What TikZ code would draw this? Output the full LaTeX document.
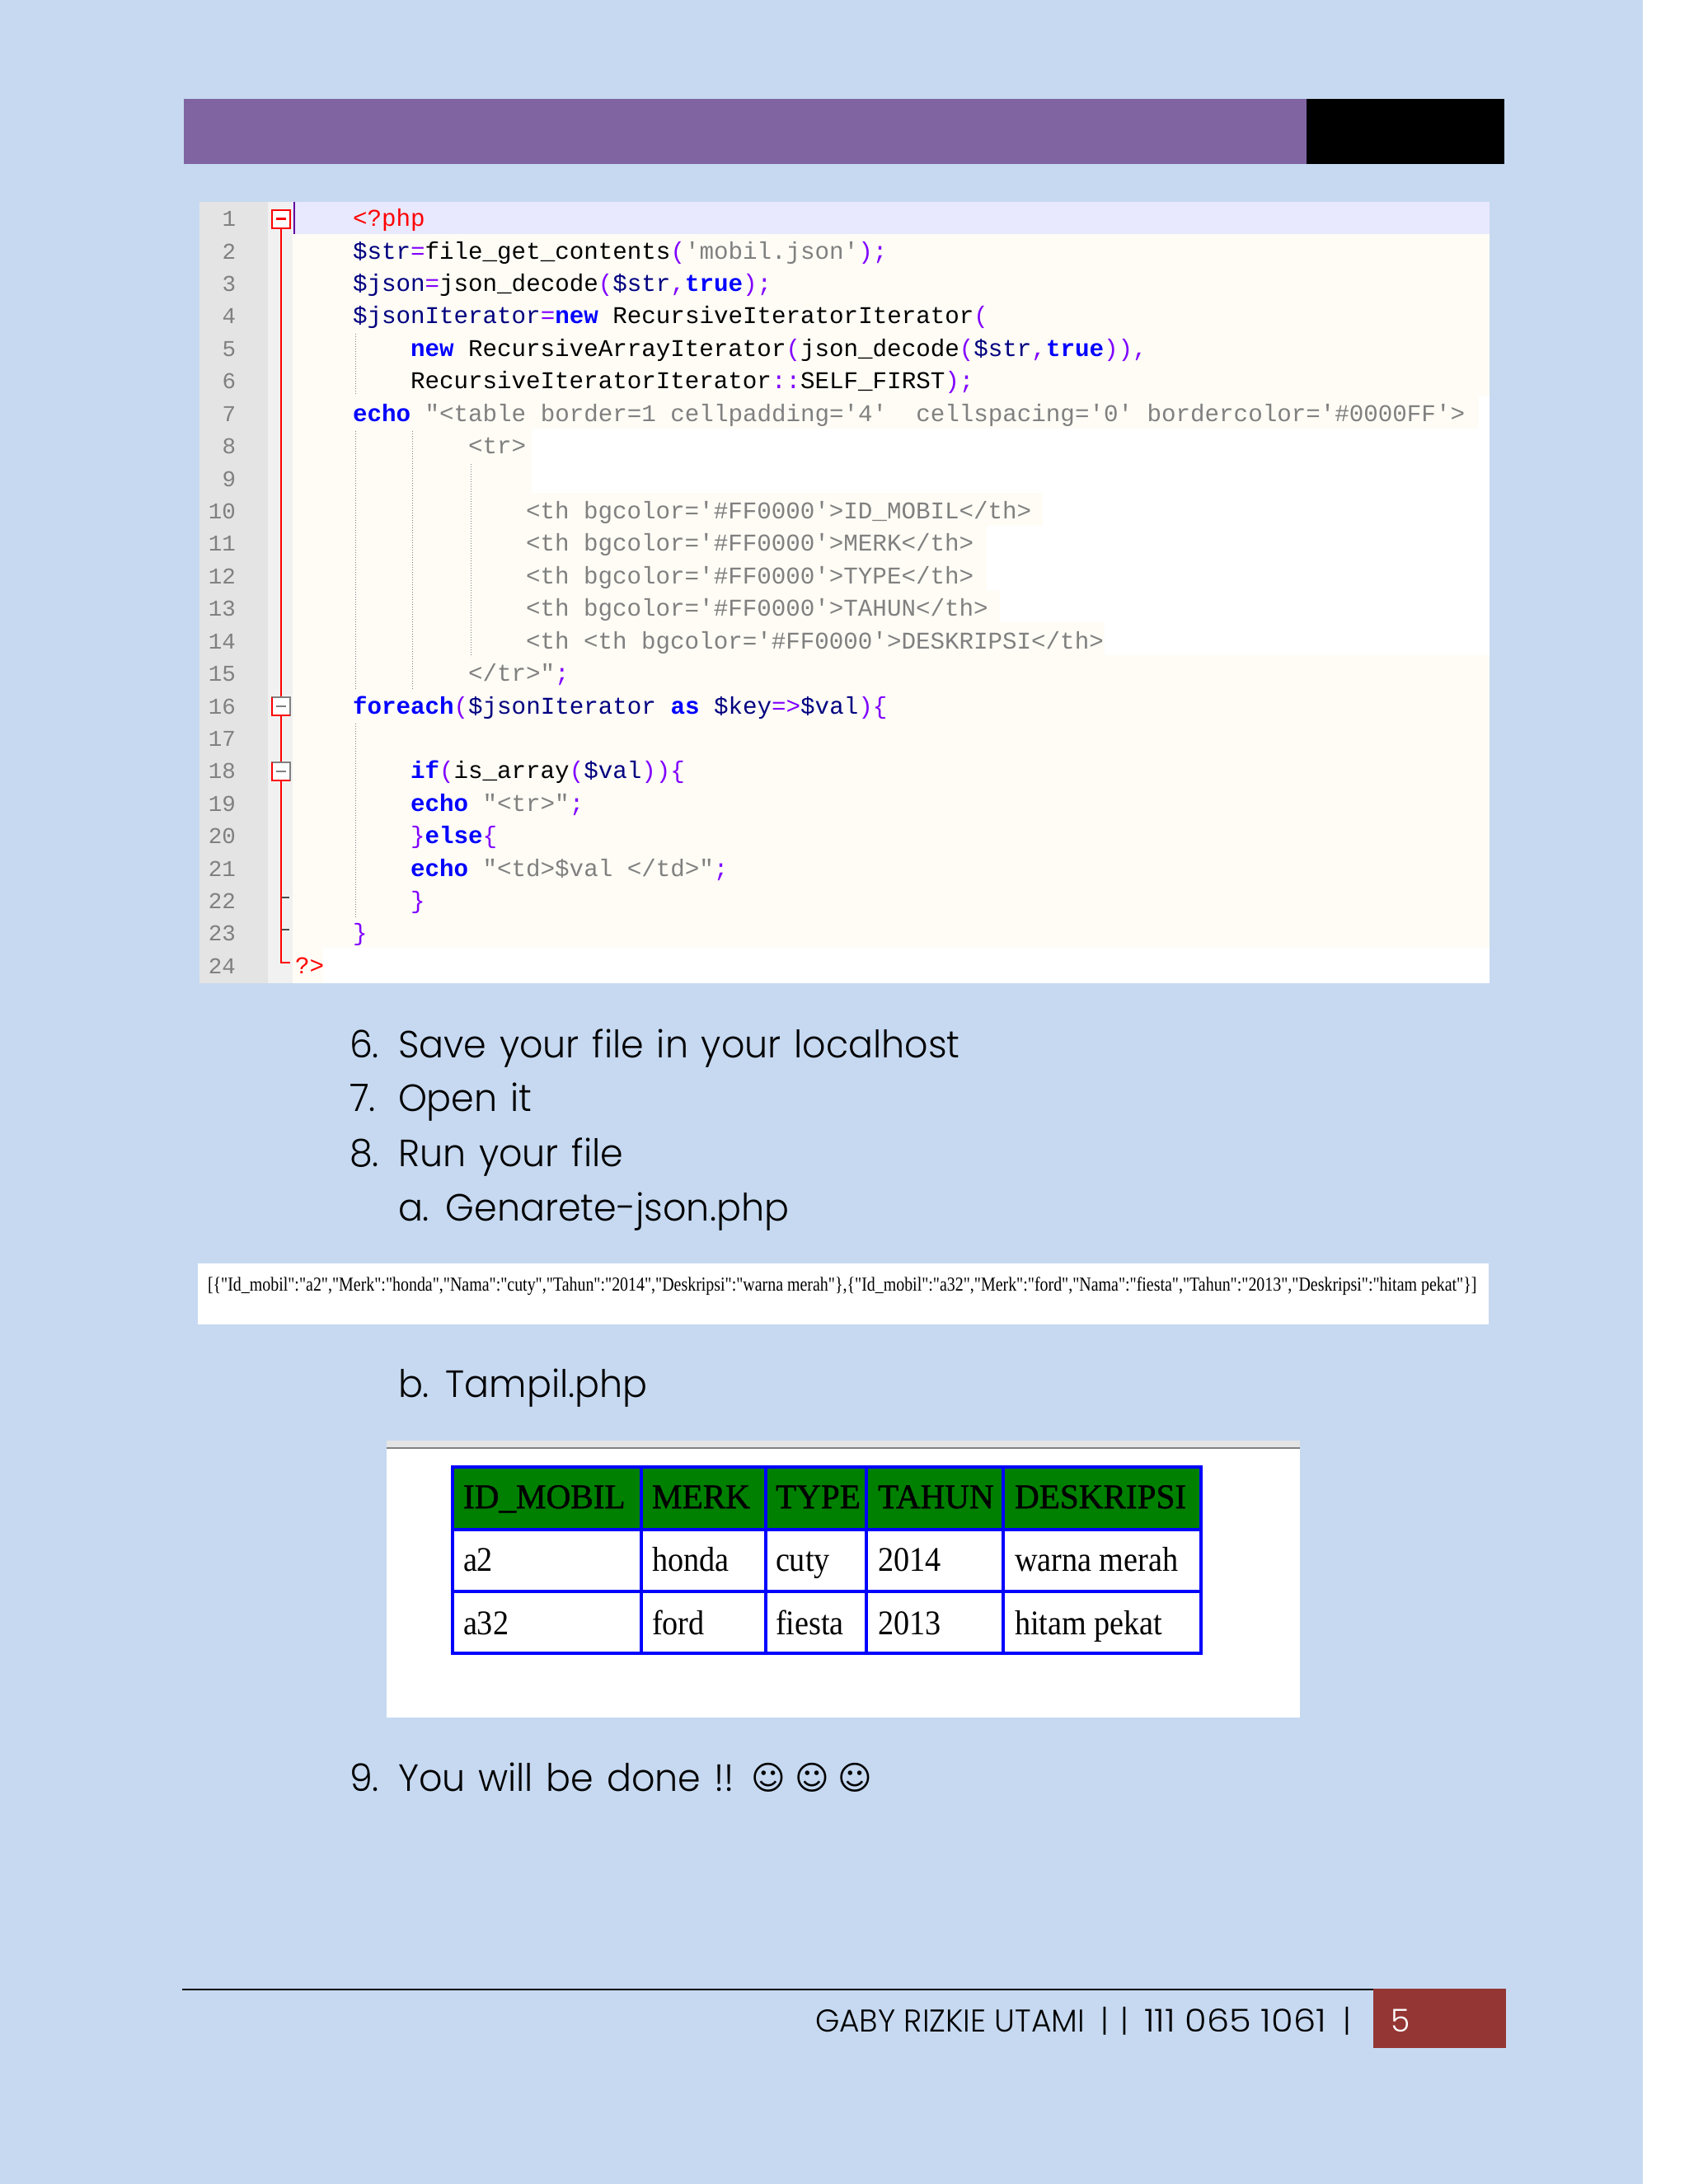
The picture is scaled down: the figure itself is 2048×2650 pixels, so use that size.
\documentclass[tikz,border=0pt]{standalone}
\usepackage{fontspec}
\newfontfamily\bodyfont[FakeStretch=0.965,WordSpace=1.3,UprightFont=* Light]{Poppins}
\newfontfamily\footfont[FakeStretch=0.985,UprightFont=* Light]{Poppins}
\newfontfamily\footnum[FakeStretch=1.13,UprightFont=* Light]{Poppins}
\newfontfamily\codefont{Liberation Mono}
\newfontfamily\webhead[FakeBold=1.2,FakeStretch=0.98]{Liberation Serif}
\newfontfamily\webfont[FakeStretch=0.91]{Liberation Serif}
\newfontfamily\jsonfont[FakeStretch=0.83]{Liberation Serif}
\newfontfamily\symfont{DejaVu Sans}

\definecolor{pagebg}{HTML}{C6D9F1}
\definecolor{barpurple}{HTML}{8064A2}
\definecolor{footred}{HTML}{943634}
\definecolor{gutter}{HTML}{E4E4E4}
\definecolor{hatch}{HTML}{F1F1F1}
\definecolor{caretline}{HTML}{E8E8FF}
\definecolor{cream}{HTML}{FEFCF5}
\definecolor{phpnavy}{HTML}{000080}
\definecolor{phppurple}{HTML}{8000FF}
\definecolor{phpgray}{HTML}{808080}
\definecolor{webgreen}{HTML}{008000}

\newcommand{\phptag}[1]{\textcolor{red}{#1}}
\newcommand{\phpvar}[1]{\textcolor{phpnavy}{#1}}
\newcommand{\phpop}[1]{\textcolor{phppurple}{#1}}
\newcommand{\phpword}[1]{\textcolor{blue}{\bfseries #1}}
\newcommand{\phpstr}[1]{\textcolor{phpgray}{#1}}

\tikzset{
	label/.style={inner sep=0, outer sep=0, anchor=base west},
	bodytext/.style={label, font=\bodyfont\fontsize{46}{50}\selectfont},
	foottext/.style={label, font=\footfont\fontsize{38.2}{44}\selectfont},
	footpipe/.style={foottext, anchor=base},
	smiley/.style={inner sep=0, outer sep=0, anchor=center, font=\symfont\fontsize{40}{44}\selectfont},
	codetext/.style={label, font=\codefont\fontsize{29.2}{32}\selectfont},
	linenum/.style={inner sep=0, outer sep=0, anchor=base east, text=phpgray, font=\codefont\fontsize{27.5}{32}\selectfont},
	webcell/.style={label, font=\webfont\fontsize{42}{46}\selectfont},
	webheadcell/.style={label, font=\webhead\fontsize{42}{46}\selectfont},
	webgrid/.style={blue, line width=4.5pt},
	guide/.style={phpgray, line width=1pt, dotted},
	fold/.style={red, line width=2.5pt}
}

\begin{document}
\begin{tikzpicture}[x=1pt, y=-1pt]
	\useasboundingbox (0,0) rectangle (2048,2650);
	
	% Draw the page.
	\fill[white] (0,0) rectangle (2048,2650);
	\fill[pagebg] (0,0) rectangle (1993,2650);
	
	% Draw the header bar.
	\fill[barpurple] (223,120) rectangle (1585,199);
	\fill[black] (1585,120) rectangle (1825,199);
	
	% Draw the editor panel.
	\fill[white] (242,245) rectangle (1807,1193);
	\fill[gutter] (242,245) rectangle (325,1193);
	\fill[hatch] (325,245) rectangle (355,1193);
	\fill[caretline] (355,245) rectangle (1807,284);
	\fill[cream] (355,284) rectangle (1807,480);
	\fill[cream] (355,480) rectangle (1794,520);
	\fill[cream] (355,795) rectangle (1807,1150);
	\fill[cream] (355,1150) rectangle (392,1193);
	\foreach \y/\xend in {598/1265, 637/1197, 677/1197, 716/1213, 755/1340}{
		\fill[cream] (355,\y) rectangle (\xend,\y + 40);
	}
	\fill[cream] (355,520) rectangle (645,598);
	\draw[blue!60!red, line width=2pt] (357,245) -- (357,284);
	
	% Draw the indent guides.
	\foreach \x/\ystart/\yend in {431/405/480, 431/523/837, 500/523/837, 571/563/797, 431/878/1113}{
		\draw[guide] (\x,\ystart) -- (\x,\yend);
	}
	
	% Draw the fold margin.
	\draw[fold] (341,277) -- (341,1168) -- (352,1168);
	\draw[fold, fill=white] (330,255) rectangle (352,277);
	\draw[fold, line width=3pt] (335,265) -- (347,265);
	\foreach \y in {846, 925}{
		\draw[gray, line width=2pt, fill=white] (330,\y) rectangle (352,\y + 22);
		\draw[fold] (352,\y + 22) -- (330,\y + 22) -- (330,\y);
		\draw[gray, line width=2pt] (335,\y + 11) -- (347,\y + 11);
	}
	\foreach \y in {1089, 1128}{
		\draw[black!70, line width=2pt] (342,\y) -- (351,\y);
	}
	
	% Draw the line numbers.
	\foreach \n in {1,...,24}{
		\node[linenum] (num\n) at (286,{274.7 + 39.42*(\n - 1)}) {\n};
	}
	
	% Draw the code lines.
	\foreach \n/\col/\codetxt in {
		1/4/{\phptag{<?php}},
		2/4/{\phpvar{\$str}\phpop{=}file\_get\_contents\phpop{(}\phpstr{'mobil.json'}\phpop{);}},
		3/4/{\phpvar{\$json}\phpop{=}json\_decode\phpop{(}\phpvar{\$str}\phpop{,}\phpword{true}\phpop{);}},
		4/4/{\phpvar{\$jsonIterator}\phpop{=}\phpword{new} RecursiveIteratorIterator\phpop{(}},
		5/8/{\phpword{new} RecursiveArrayIterator\phpop{(}json\_decode\phpop{(}\phpvar{\$str}\phpop{,}\phpword{true}\phpop{)),}},
		6/8/{RecursiveIteratorIterator\phpop{::}SELF\_FIRST\phpop{);}},
		7/4/{\phpword{echo} \phpstr{"<table border=1 cellpadding='4'\ \ cellspacing='0' bordercolor='\#0000FF'>}},
		8/12/{\phpstr{<tr>}},
		10/16/{\phpstr{<th bgcolor='\#FF0000'>ID\_MOBIL</th>}},
		11/16/{\phpstr{<th bgcolor='\#FF0000'>MERK</th>}},
		12/16/{\phpstr{<th bgcolor='\#FF0000'>TYPE</th>}},
		13/16/{\phpstr{<th bgcolor='\#FF0000'>TAHUN</th>}},
		14/16/{\phpstr{<th <th bgcolor='\#FF0000'>DESKRIPSI</th>}},
		15/12/{\phpstr{</tr>"}\phpop{;}},
		16/4/{\phpword{foreach}\phpop{(}\phpvar{\$jsonIterator} \phpword{as} \phpvar{\$key}\phpop{=>}\phpvar{\$val}\phpop{)\{}},
		18/8/{\phpword{if}\phpop{(}is\_array\phpop{(}\phpvar{\$val}\phpop{))\{}},
		19/8/{\phpword{echo} \phpstr{"<tr>"}\phpop{;}},
		20/8/{\phpop{\}}\phpword{else}\phpop{\{}},
		21/8/{\phpword{echo} \phpstr{"<td>\$val </td>"}\phpop{;}},
		22/8/{\phpop{\}}},
		23/4/{\phpop{\}}},
		24/0/{\phptag{?>}}}{
		\node[codetext] (code\n) at ({358 + 17.5*\col},{274.7 + 39.42*(\n - 1)}) {\codetxt};
	}
	
	% Draw the numbered steps.
	\foreach \x/\y/\name/\steptxt in {424/1283/six/6., 483/1283/save/Save your file in your localhost, 424/1348/seven/7., 483/1348/open/Open it, 424/1415/eight/8., 483/1415/run/Run your file, 483/1481/suba/a. Genarete-json.php, 483/1695/subb/b. Tampil.php, 424/2173/nine/9., 483/2173/done/You will be done !!}{
		\node[bodytext] (\name) at (\x,\y) {\steptxt};
	}
	\foreach \x/\name in {932/smileone, 985/smiletwo, 1037/smilethree}{
		\node[smiley] (\name) at (\x,2157) {☺};
	}
	
	% Draw the json output.
	\fill[white] (240,1533) rectangle (1806,1607);
	\node[label, font=\jsonfont\fontsize{24}{28}\selectfont] (json) at (252,1566) {[\{"Id\_mobil":"a2","Merk":"honda","Nama":"cuty","Tahun":"2014","Deskripsi":"warna merah"\},\{"Id\_mobil":"a32","Merk":"ford","Nama":"fiesta","Tahun":"2013","Deskripsi":"hitam pekat"\}]};
	
	% Draw the browser window.
	\fill[white] (469,1748) rectangle (1577,2084);
	\fill[gutter] (469,1748) rectangle (1577,1757);
	\draw[gray, line width=1.5pt] (469,1757) -- (1577,1757);
	
	% Draw the table.
	\fill[webgreen] (549,1780) rectangle (1457,1856);
	\draw[webgrid] (549,1780) rectangle (1457,2006);
	\foreach \x in {778, 929, 1051, 1217}{
		\draw[blue, line width=4pt] (\x,1780) -- (\x,2006);
	}
	\foreach \y in {1856, 1931}{
		\draw[webgrid] (549,\y) -- (1457,\y);
	}
	\foreach \x/\name/\celltxt in {562/hid/ID\_MOBIL, 791/hmerk/MERK, 941/htype/TYPE, 1065/htahun/TAHUN, 1231/hdesk/DESKRIPSI}{
		\node[webheadcell] (\name) at (\x,1830) {\celltxt};
	}
	\foreach \x/\y/\name/\celltxt in {562/1906/aid/a2, 791/1906/amerk/honda, 941/1906/atype/cuty, 1065/1906/atahun/2014, 1231/1906/adesk/warna merah,
		562/1983/bid/a32, 791/1983/bmerk/ford, 941/1983/btype/fiesta, 1065/1983/btahun/2013, 1231/1983/bdesk/hitam pekat}{
		\node[webcell] (\name) at (\x,\y) {\celltxt};
	}
	
	% Draw the footer.
	\draw[black, line width=2pt] (221,2414) -- (1666,2414);
	\fill[footred] (1666,2413) rectangle (1827,2485);
	\node[foottext] (author) at (989,2465) {GABY RIZKIE UTAMI};
	\foreach \x/\name in {1340/pipeone, 1364.5/pipetwo, 1634.5/pipethree}{
		\node[footpipe] (\name) at (\x,2465) {|};
	}
	\node[foottext] (nim) at (1388,2465) {\footnum 111 065 1061};
	\node[foottext, text=white] (pagenum) at (1687,2465) {5};
	
\end{tikzpicture}
\end{document}
